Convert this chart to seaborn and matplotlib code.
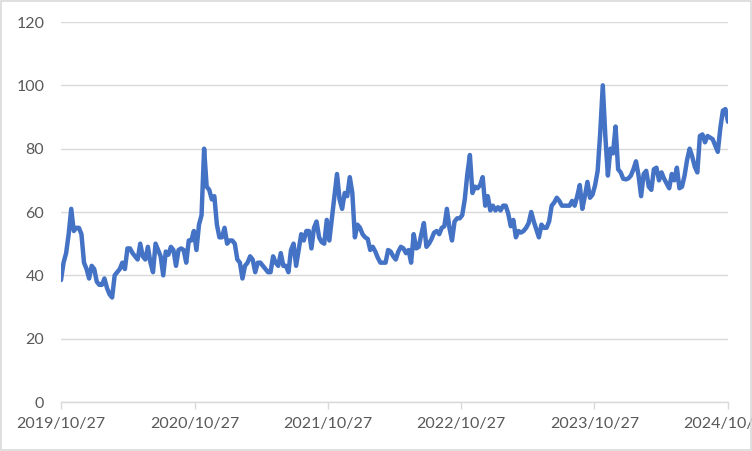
import pandas as pd
import matplotlib
matplotlib.use("Agg")
import matplotlib.pyplot as plt
import matplotlib.dates as mdates
from matplotlib.patches import Rectangle
import seaborn as sns

sns.set_style("white")
plt.rcParams['font.family'] = ['Lato', 'DejaVu Sans']

# weekly values, one list per year of the series (starting 2019/10/27)
start_date = "2019-10-27"
year1 = [38.5, 44, 47, 53, 61, 54, 55, 55, 53, 44,
         42, 39, 43, 42, 38, 37, 37, 39, 36, 34,
         33, 40, 41, 42, 44, 42, 48.5, 48.5, 47, 46,
         45, 50, 46, 45, 49, 44, 41, 50, 48, 46,
         40, 47.5, 46.5, 49, 48, 43, 48, 48.5, 48, 44,
         51, 51, 54]
year2 = [48, 56, 59, 80, 68, 67, 64, 65, 56, 52,
         52, 55, 50, 51, 51, 50, 45, 44, 39, 43,
         44, 46, 45, 41, 44, 44, 43, 42, 41, 41,
         46, 44, 43, 47, 43, 43, 41, 48, 50, 43,
         48, 53, 51, 54, 54, 48.5, 55, 57, 52, 50.5,
         50, 57.5]
year3 = [51, 58, 65, 72, 64, 61, 66, 65, 71, 66,
         52, 56, 55, 53, 52, 51.5, 48, 49, 47.5, 45.5,
         44, 44, 44, 48, 47.5, 46, 45, 47.5, 49, 48.5,
         47, 48, 44, 53, 48.5, 49, 53, 56.5, 49, 50,
         51.5, 53.5, 54, 53, 55, 55.5, 61, 55, 51, 57,
         58, 58]
year4 = [59, 64, 72, 78, 66, 68, 67.5, 68.5, 71, 62,
         65, 60.5, 62, 60.5, 61.5, 60.5, 62, 62, 59.5, 55.5,
         57.5, 52, 54, 53.5, 54, 55, 56.5, 60, 57, 54.5,
         52, 56, 55, 55, 57, 62, 63, 64.5, 63.5, 62,
         62, 62, 62, 63.5, 62, 65, 68.5, 61, 65, 69.5,
         64.5, 65.5]
year5 = [68.5, 73, 85, 100, 84, 71.5, 80, 78.5, 87, 73.5,
         72.5, 70.5, 70.3, 70.6, 71.5, 73.5, 76, 71.5, 65, 72,
         73, 68, 67, 73.5, 74, 70, 72.5, 70.5, 69, 67.5,
         72, 70, 74, 67.5, 68, 71.5, 76.5, 80, 77.5, 74.3,
         72.5, 84, 84.5, 82, 84, 83.5, 83, 81, 79, 86.5,
         92, 92.5, 88.5]
tick_dates = ["2019-10-27", "2020-10-27", "2021-10-27", "2022-10-27", "2023-10-27", "2024-10-27"]
y_ticks = [0, 20, 40, 60, 80, 100, 120]

values = year1 + year2 + year3 + year4 + year5
df = pd.DataFrame({
    "date": pd.date_range(start_date, periods=len(values), freq="7D"),
    "value": values,
})

fig = plt.figure(figsize=(7.52, 4.51), dpi=100)
ax = fig.add_axes([61 / 752, 1 - 402 / 451, 667 / 752, 380 / 451])

sns.lineplot(data=df, x="date", y="value", ax=ax, color="#4472C4", linewidth=3.2)

ax.set_ylim(0, 120)
ax.set_yticks(y_ticks)
ax.set_xlim(pd.Timestamp(tick_dates[0]), pd.Timestamp(tick_dates[-1]))
ax.set_xticks(pd.to_datetime(tick_dates))
ax.xaxis.set_major_formatter(mdates.DateFormatter("%Y/%m/%d"))

ax.set_xlabel("")
ax.set_ylabel("")
ax.grid(axis="y", color="#d9d9d9", linewidth=1)
ax.set_axisbelow(True)
for side in ["left", "right", "top"]:
    ax.spines[side].set_visible(False)
ax.spines["bottom"].set_color("#d9d9d9")
ax.spines["bottom"].set_linewidth(1)
ax.tick_params(axis="y", length=0, pad=12, labelsize=11.5, labelcolor="#595959")
ax.tick_params(axis="x", length=5, width=1, color="#d9d9d9", direction="out",
               pad=6, labelsize=11.5, labelcolor="#595959", bottom=True)
for lab in ax.get_xticklabels():
    lab.set_clip_on(False)

# light border around the chart area
fig.patches.append(Rectangle((0.001, 0.002), 0.998, 0.996, transform=fig.transFigure,
                             fill=False, edgecolor="#d9d9d9", linewidth=1.2))

fig.savefig("out.png", dpi=100)
